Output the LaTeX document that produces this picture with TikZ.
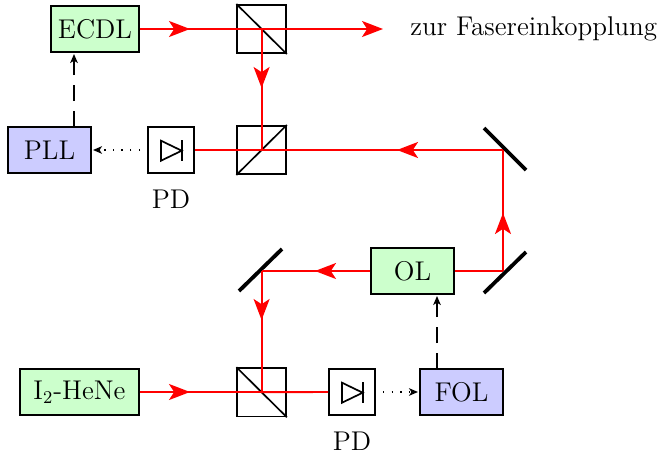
\documentclass[tikz,border=0pt]{standalone}
\usetikzlibrary{arrows.meta,positioning}
\tikzset{
  x=0.5pt,y=-0.5pt,
  every node/.style={font=\fontsize{13.55}{15}\selectfont},
  greenbox/.style={draw=black,fill=green!20,line width=0.85pt,minimum height=23pt,inner sep=0pt},
  bluebox/.style={draw=black,fill=blue!20,line width=0.85pt,minimum width=41.5pt,minimum height=23pt,inner sep=0pt},
  pdbox/.style={draw=black,fill=white,line width=0.85pt,minimum width=23pt,minimum height=23pt,inner sep=0pt},
  bsbox/.style={draw=black,fill=white,line width=0.85pt,minimum width=24.4pt,minimum height=24.2pt,inner sep=0pt},
  beam/.style={draw=red,line width=0.95pt},
  beamtip/.style={beam,-{Stealth[length=10.5pt,width=8pt,inset=2.6pt]}},
  mirror/.style={draw=black,line width=1.9pt},
  ctrl/.style={draw=black,line width=0.85pt,dash pattern=on 8pt off 5pt,-{Stealth[length=4.5pt,width=3.8pt,inset=1.2pt]}},
  sig/.style={draw=black,line width=0.7pt,dash pattern=on 0.7pt off 3.6pt,-{Stealth[length=4.5pt,width=3.8pt,inset=1.2pt]}},
  diode/.style={draw=black,line width=0.85pt},
}
\begin{document}
\begin{tikzpicture}
\useasboundingbox (0,0) rectangle (659,455);
% boxes
\node[greenbox,minimum width=44pt] (ecdl) at (95,29) {ECDL};
\node[bluebox] (pll) at (49.5,150) {PLL};
\node[pdbox] (pd1) at (171,150) {};
\node[bsbox] (bs1) at (261.6,29) {};
\node[bsbox] (bs2) at (261.6,150) {};
\node[greenbox,minimum width=41.5pt] (ol) at (412.5,271) {OL};
\node[greenbox,minimum width=59.5pt] (iodine) at (79.5,392) {I$_2$-HeNe};
\node[bsbox] (bs3) at (261.6,392.2) {};
\node[pdbox] (pd2) at (352,392) {};
\node[bluebox] (fol) at (461.5,392) {FOL};
\node (pdl1) at (171,199) {PD};
\node (pdl2) at (352,441) {PD};
\node[anchor=west,inner sep=0pt] (out) at (410,29) {zur Fasereinkopplung};
% splitter diagonals
\draw[line width=0.85pt] (bs1.north west) -- (bs1.south east);
\draw[line width=0.85pt] (bs2.south west) -- (bs2.north east);
\draw[line width=0.85pt] (bs3.north west) -- (bs3.south east);
% mirrors
\coordinate (m1) at (503,150);
\coordinate (m2) at (503,271);
\coordinate (m3) at (261.6,271);
\draw[mirror] (484,128) -- (526,170);
\draw[mirror] (484,293) -- (526,252);
\draw[mirror] (239,291) -- (282,249);
% beam path
\coordinate (t1) at (190,29);
\coordinate (t2) at (261.6,88);
\coordinate (t3) at (397,150);
\coordinate (t4) at (503,213);
\coordinate (t5) at (315,271);
\coordinate (t6) at (261.6,320);
\coordinate (t7) at (190,392);
\coordinate (e1) at (383,29);
\coordinate (e2) at (232,29);
\draw[beam] (ecdl.east) -- (e2);
\draw[beamtip] (ecdl.east) -- (t1);
\draw[beamtip] (e2) -- (e1);
\draw[beam] (e2) -- (bs1.center);
\draw[beam] (bs1.center) -- (bs2.center);
\draw[beamtip] (bs1.center) -- (t2);
\draw[beam] (m1) -- (pd1.east);
\draw[beamtip] (m1) -- (t3);
\draw[beam] (bs2.center) -- (pd1.east);
\draw[beam] (m2) -- (m1);
\draw[beamtip] (m2) -- (t4);
\draw[beam] (ol.east) -- (m2);
\draw[beam] (ol.west) -- (m3);
\draw[beamtip] (ol.west) -- (t5);
\draw[beam] (m3) -- (bs3.center);
\draw[beamtip] (m3) -- (t6);
\draw[beam] (iodine.east) -- (pd2.west);
\draw[beamtip] (iodine.east) -- (t7);
\draw[beam] (bs3.center) -- (pd2.west);
% diodes
\draw[diode,line join=miter] (161,140.7) -- (161,160.7) -- (181.7,150.7) -- cycle;
\draw[diode] (181.7,140) -- (181.7,160.7);
\draw[diode,line join=miter] (342,382.7) -- (342,402.7) -- (362.7,392.7) -- cycle;
\draw[diode] (362.7,382) -- (362.7,402.7);
% control lines
\draw[ctrl] (74,127) -- (74,54);
\draw[ctrl] (437,369) -- (437,296);
\draw[sig] (140,150) -- (93,150);
\draw[sig] (383,392) -- (418,392);
\end{tikzpicture}
\end{document}
